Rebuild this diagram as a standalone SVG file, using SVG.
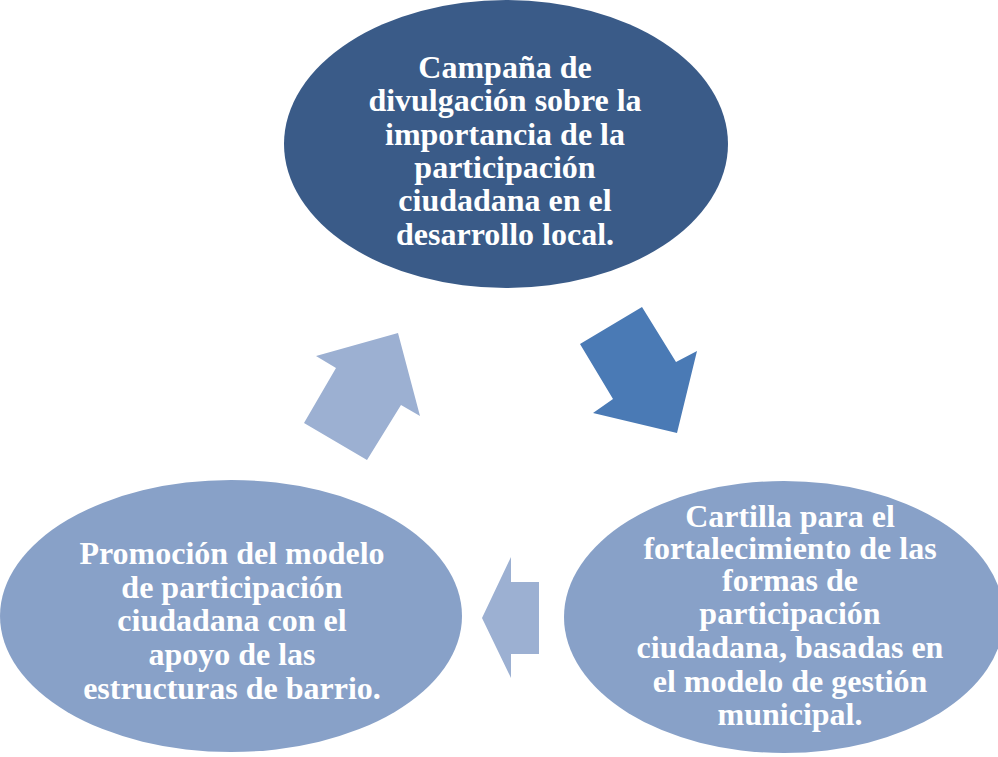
<svg xmlns="http://www.w3.org/2000/svg" width="998" height="757" viewBox="0 0 998 757">
<style>
text{font-family:"Liberation Serif","Times New Roman",serif;font-weight:bold;font-size:32px;fill:#ffffff;text-anchor:middle}
.dark{fill:#3a5b88}
.light{fill:#88a1c8}
.a1{fill:#4a7ab5}
.a2{fill:#9cb0d2}
</style>
<rect width="998" height="757" fill="#ffffff"/>
<g id="connectors">
<polygon class="a1" points="580,344 642,307 676,362 697,351 677,433 593,413 613,399"/>
<polygon class="a2" points="316,356 398,333 420,416 401,405 367,460 304,423 336,368"/>
<polygon class="a2" points="511,557 511,582 539,582 539,654 511,654 511,678 482,618"/>
</g>
<g id="node-top">
<ellipse class="dark" cx="506" cy="144" rx="222" ry="144"/>
<text x="505" y="78">Campaña de</text>
<text x="505" y="111">divulgación sobre la</text>
<text x="505" y="145">importancia de la</text>
<text x="505" y="178">participación</text>
<text x="505" y="211">ciudadana en el</text>
<text x="505" y="245">desarrollo local.</text>
</g>
<g id="node-right">
<ellipse class="light" cx="784" cy="617" rx="220" ry="136"/>
<text x="790" y="527">Cartilla para el</text>
<text x="790" y="559">fortalecimiento de las</text>
<text x="790" y="591">formas de</text>
<text x="790" y="624">participación</text>
<text x="790" y="658">ciudadana, basadas en</text>
<text x="790" y="692">el modelo de gestión</text>
<text x="790" y="725">municipal.</text>
</g>
<g id="node-left">
<ellipse class="light" cx="231" cy="616" rx="231" ry="136"/>
<text x="232" y="564">Promoción del modelo</text>
<text x="232" y="598">de participación</text>
<text x="232" y="631">ciudadana con el</text>
<text x="232" y="665">apoyo de las</text>
<text x="232" y="699">estructuras de barrio.</text>
</g>
</svg>
